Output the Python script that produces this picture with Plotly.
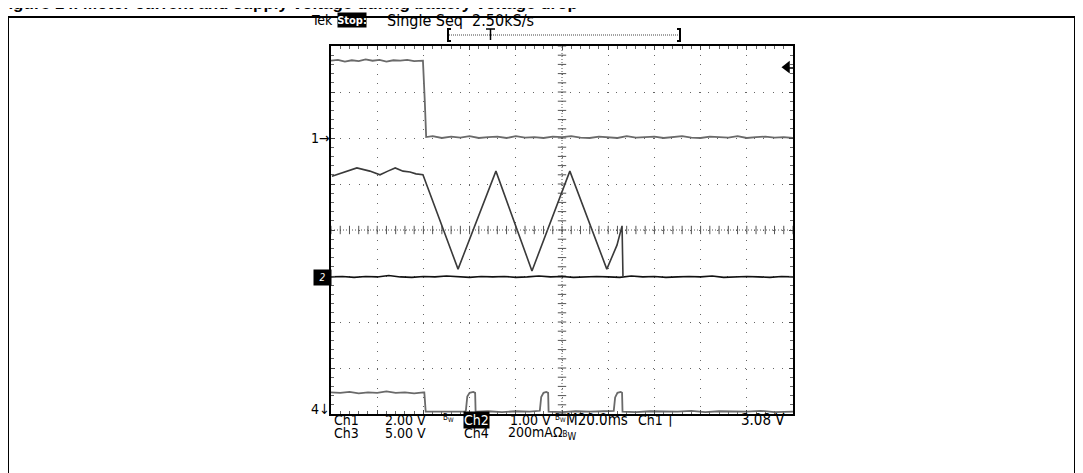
import plotly.graph_objects as go
import numpy as np

# ---- Data (x in divisions of 20 ms, y in screen divisions) ----
ch1_x = [0.00, 0.15, 0.30, 0.45, 0.60, 0.75, 0.90, 1.05, 1.20, 1.35, 1.50, 1.65, 1.80, 1.95,
         1.99, 2.03, 2.06,
         2.2, 2.4, 2.6, 2.8, 3.0, 3.2, 3.4, 3.6, 3.8, 4.0, 4.2, 4.4, 4.6, 4.8, 5.0, 5.2, 5.4, 5.6, 5.8,
         6.0, 6.2, 6.4, 6.6, 6.8, 7.0, 7.2, 7.4, 7.6, 7.8, 8.0, 8.2, 8.4, 8.6, 8.8, 9.0, 9.2, 9.4, 9.6, 9.8, 10.0]
ch1_y = [7.68, 7.70, 7.66, 7.69, 7.67, 7.71, 7.68, 7.70, 7.66, 7.69, 7.68, 7.70, 7.67, 7.69,
         7.68, 6.80, 6.02,
         6.04, 6.00, 6.03, 6.01, 6.04, 6.00, 6.02, 6.03, 6.00, 6.04,
         6.01, 6.02, 6.00, 6.03, 6.02, 6.04, 6.01, 6.00, 6.03, 6.02,
         6.00, 6.04, 6.01, 6.02, 6.03, 6.00, 6.02, 6.04, 6.01, 6.00,
         6.03, 6.02, 6.01, 6.04, 6.00, 6.02, 6.03, 6.01, 6.02, 6.00]

ch2_x = [0.02, 0.30, 0.56, 0.84, 1.06, 1.23, 1.39, 1.56, 1.71, 1.84, 1.99,
         2.75, 3.57, 4.35, 5.17, 5.97, 6.15, 6.19, 6.30, 6.32]
ch2_y = [5.17, 5.26, 5.35, 5.28, 5.20, 5.28, 5.35, 5.28, 5.26, 5.22, 5.20,
         3.15, 5.28, 3.11, 5.28, 3.15, 3.61, 3.67, 4.09, 2.98]

ch3_x = [0.00, 0.25, 0.50, 0.75, 1.00, 1.25, 1.50, 1.75, 2.00, 2.25, 2.50, 2.75, 3.00, 3.25,
         3.50, 3.75, 4.00, 4.25, 4.50, 4.75, 5.00, 5.25, 5.50, 5.75, 6.00, 6.25, 6.50, 6.75,
         7.00, 7.25, 7.50, 7.75, 8.00, 8.25, 8.50, 8.75, 9.00, 9.25, 9.50, 9.75, 10.00]
ch3_y = [2.98, 2.99, 2.97, 2.99, 2.98, 3.01, 2.98, 2.97, 2.99, 2.98, 3.00, 2.98, 2.97, 2.99,
         2.98, 2.99, 2.97, 2.98, 3.00, 2.98, 2.99, 2.97, 2.98, 2.99, 2.98, 2.97, 3.00, 2.98,
         2.99, 2.97, 2.98, 2.99, 2.98, 3.00, 2.97, 2.98, 2.99, 2.98, 2.97, 2.99, 2.98]

ch4_x = [0.0, 0.2, 0.4, 0.6, 0.8, 1.0, 1.2, 1.4, 1.6, 1.8, 2.0, 2.02, 2.05,
         2.3, 2.6, 2.9, 2.92, 2.95, 3.00, 3.08, 3.12, 3.13, 3.15,
         3.4, 3.7, 4.0, 4.3, 4.52, 4.55, 4.60, 4.66, 4.70, 4.71, 4.73,
         5.0, 5.3, 5.6, 5.9, 6.12, 6.15, 6.20, 6.27, 6.30, 6.31, 6.33,
         6.6, 6.9, 7.2, 7.5, 7.8, 8.1, 8.4, 8.7, 9.0, 9.3, 9.6, 10.0]
ch4_y = [0.47, 0.46, 0.48, 0.45, 0.47, 0.46, 0.49, 0.46, 0.47, 0.45, 0.47, 0.47, 0.05,
         0.05, 0.06, 0.05, 0.08, 0.38, 0.46, 0.48, 0.46, 0.05, 0.05,
         0.06, 0.04, 0.06, 0.05, 0.07, 0.37, 0.46, 0.48, 0.46, 0.05, 0.05,
         0.04, 0.06, 0.05, 0.06, 0.07, 0.36, 0.46, 0.48, 0.46, 0.05, 0.05,
         0.04, 0.06, 0.05, 0.05, 0.07, 0.04, 0.06, 0.05, 0.05, 0.07, 0.04, 0.05]

trigger_x_div = 9.87
trigger_level_div = 7.54  # Ch1 trigger 3.08 V at 2 V/div above ground (6 div)

# ---- Layout geometry (page has an 8px body margin) ----
OFF = 8
W, H = 1083 - OFF, 473 - OFF
L, R, T, B = 331, 793, 46, 414   # plot area in page pixels
PW, PH = R - L, B - T


def px(x):
    return (x - L) / PW


def py(y):
    return (B - y) / PH


FONT = "DejaVu Sans Condensed, DejaVu Sans, sans-serif"

fig = go.Figure()

# crosshair ticks (decoration)
tx = np.arange(0, 10.001, 0.2)
ty = np.arange(0, 8.001, 0.2)
fig.add_trace(go.Scatter(x=tx, y=[4] * len(tx), mode="markers",
                         marker=dict(symbol="line-ns", size=6, line=dict(width=1, color="#555")),
                         hoverinfo="skip", showlegend=False))
fig.add_trace(go.Scatter(x=[5] * len(ty), y=ty, mode="markers",
                         marker=dict(symbol="line-ew", size=6, line=dict(width=1, color="#555")),
                         hoverinfo="skip", showlegend=False))

fig.add_trace(go.Scatter(x=ch3_x, y=ch3_y, mode="lines", line=dict(color="#111", width=1.6),
                         name="Ch3", showlegend=False))
fig.add_trace(go.Scatter(x=ch1_x, y=ch1_y, mode="lines", line=dict(color="#6a6a6a", width=1.8),
                         name="Ch1", showlegend=False))
fig.add_trace(go.Scatter(x=ch2_x, y=ch2_y, mode="lines", line=dict(color="#3a3a3a", width=1.6),
                         name="Ch2", showlegend=False))
fig.add_trace(go.Scatter(x=ch4_x, y=ch4_y, mode="lines", line=dict(color="#6a6a6a", width=1.8),
                         name="Ch4", showlegend=False))
# trigger level marker
fig.add_trace(go.Scatter(x=[trigger_x_div], y=[trigger_level_div], mode="markers",
                         marker=dict(symbol="triangle-left", size=11, color="black"),
                         hoverinfo="skip", showlegend=False))

axis_common = dict(showticklabels=False, showline=True, linecolor="black", linewidth=1.5,
                   mirror="allticks", ticks="inside", ticklen=4, tickcolor="#444",
                   showgrid=True, gridcolor="#666", gridwidth=1, zeroline=False, dtick=1,
                   minor=dict(dtick=0.2, ticks="inside", ticklen=3, tickcolor="#666", showgrid=False))
fig.update_xaxes(range=[0, 10], griddash="1px,8.24px", **axis_common)
fig.update_yaxes(range=[0, 8], griddash="1px,8.2px", **axis_common)

shapes = [
    # outer frame
    dict(type="rect", xref="paper", yref="paper", x0=px(8), x1=px(1075), y0=py(490), y1=py(17),
         line=dict(color="black", width=2)),
    # center cross dense dotted
    dict(type="line", xref="x", yref="y", x0=5, x1=5, y0=0, y1=8, line=dict(color="#555", width=1, dash="1px,2px")),
    dict(type="line", xref="x", yref="y", x0=0, x1=10, y0=4, y1=4, line=dict(color="#555", width=1, dash="1px,2px")),
    # record-length bracket
    dict(type="line", xref="paper", yref="paper", x0=px(449), x1=px(679), y0=py(35), y1=py(35),
         line=dict(color="#444", width=1, dash="1px,1px")),
    dict(type="path", xref="paper", yref="paper",
         path=f"M {px(451)} {py(29)} L {px(448)} {py(29)} L {px(448)} {py(41)} L {px(451)} {py(41)}",
         line=dict(color="black", width=2)),
    dict(type="path", xref="paper", yref="paper",
         path=f"M {px(677)} {py(29)} L {px(680)} {py(29)} L {px(680)} {py(41)} L {px(677)} {py(41)}",
         line=dict(color="black", width=2)),
    dict(type="line", xref="paper", yref="paper", x0=px(486), x1=px(495), y0=py(29), y1=py(29),
         line=dict(color="black", width=1.5)),
    dict(type="line", xref="paper", yref="paper", x0=px(490.5), x1=px(490.5), y0=py(29), y1=py(40),
         line=dict(color="black", width=1.5)),
    # trigger marker stub
    dict(type="line", xref="paper", yref="paper", x0=px(787), x1=px(793), y0=py(68), y1=py(68),
         line=dict(color="black", width=1.5)),
]

ann = []


def text(x, y, s, size=14, color="black", bg=None, xanchor="left", font=FONT, **kw):
    d = dict(xref="paper", yref="paper", x=px(x), y=py(y), text=s, showarrow=False,
             xanchor=xanchor, yanchor="middle", font=dict(family=font, size=size, color=color),
             borderpad=0)
    if bg:
        d["bgcolor"] = bg
    d.update(kw)
    ann.append(d)


# partially visible caption above the frame (cut off by page edge)
ann.append(dict(xref="paper", yref="paper", x=px(-4), y=py(15), xanchor="left", yanchor="bottom",
                text="<b>Figure 14. Motor current and supply voltage during battery voltage drop</b>",
                showarrow=False, font=dict(family="Liberation Sans, Arial", size=17, color="black")))

# header
text(310, 20, "Tek", size=14)
text(337, 20, "<b>Stop:</b>", size=11, color="white", bg="black", width=28, height=14)
text(386, 20, "Single Seq  2.50kS/s", size=16)

# channel markers
text(331, 138, "1→", size=14, xanchor="right")
text(331, 409, "4↓", size=14, xanchor="right")
text(313, 277, "<i>2</i>", size=10, color="white", bg="black", width=17, height=15)

# bottom readout
BW = "<span style='font-size:8px'>B</span><sub>W</sub>"
Y1, Y2 = 420, 433
text(333, Y1, "Ch1", size=14)
text(384, Y1, "2.00 V", size=14)
text(442, Y1 - 2, BW, size=9)
text(463, Y1, "Ch2", size=14, color="white", bg="black")
text(509, Y1, "1.00 V", size=14)
text(554, Y1 - 2, BW, size=9)
text(565, Y1, "M20.0ms", size=15)
text(637, Y1, "Ch1", size=14)
text(666, Y1, "⌉", size=14)
text(740, Y1, "3.08 V", size=15)
text(333, Y2, "Ch3", size=14)
text(384, Y2, "5.00 V", size=14)
text(463, Y2, "Ch4", size=14)
text(507, Y2, "200mAΩ" + BW, size=14)

fig.update_layout(width=W, height=H,
                  margin=dict(l=L - OFF, r=W - (R - OFF), t=T - OFF, b=H - (B - OFF)),
                  paper_bgcolor="white", plot_bgcolor="white",
                  shapes=shapes, annotations=ann, showlegend=False)

fig.write_html("out.html")
